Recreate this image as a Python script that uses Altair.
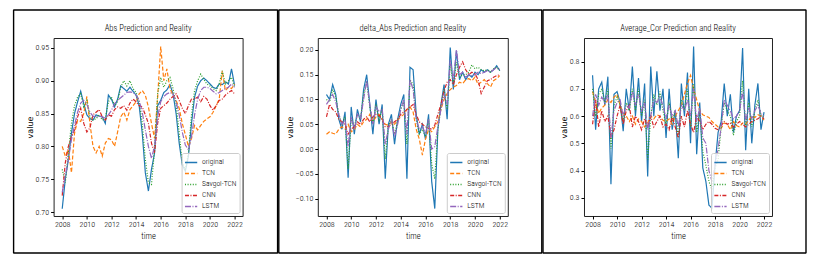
import altair as alt
import pandas as pd

FONT = "Roboto Condensed"
FW = 300

# time axis: quarterly points 2008.00 .. 2022.00
T = [2008 + 0.25 * i for i in range(57)]

NAMES = ["original", "TCN", "Savgol-TCN", "CNN", "LSTM"]
COLORS = ["#1f77b4", "#ff7f0e", "#2ca02c", "#d62728", "#9467bd"]
DASHES = [[1, 0], [4, 2], [1, 1.6], [4, 1.5, 1, 1.5], [6, 1.5, 1, 1.5]]

# ---------------- Abs ----------------
abs_original = [0.705, 0.750, 0.780, 0.820, 0.850, 0.868, 0.884, 0.865, 0.848, 0.842,
                0.840, 0.848, 0.846, 0.845, 0.835, 0.878, 0.872, 0.860, 0.872, 0.892,
                0.888, 0.884, 0.890, 0.884, 0.878, 0.862, 0.820, 0.760, 0.732, 0.765,
                0.790, 0.862, 0.870, 0.882, 0.886, 0.894, 0.880, 0.850, 0.805, 0.772,
                0.762, 0.785, 0.835, 0.875, 0.892, 0.900, 0.904, 0.900, 0.895, 0.890,
                0.888, 0.895, 0.894, 0.898, 0.895, 0.918, 0.893]
abs_tcn = [0.800, 0.785, 0.795, 0.760, 0.820, 0.840, 0.838, 0.850, 0.876, 0.835,
           0.800, 0.790, 0.800, 0.785, 0.805, 0.812, 0.810, 0.800, 0.822, 0.845,
           0.852, 0.840, 0.856, 0.862, 0.868, 0.880, 0.885, 0.878, 0.860, 0.835,
           0.812, 0.875, 0.952, 0.900, 0.918, 0.888, 0.878, 0.870, 0.858, 0.835,
           0.818, 0.800, 0.812, 0.832, 0.825, 0.832, 0.838, 0.842, 0.845, 0.852,
           0.862, 0.872, 0.915, 0.885, 0.890, 0.888, 0.895]
abs_savgol = [0.765, 0.745, 0.790, 0.835, 0.862, 0.875, 0.880, 0.860, 0.870, 0.845,
              0.840, 0.842, 0.848, 0.840, 0.842, 0.868, 0.875, 0.862, 0.868, 0.890,
              0.900, 0.892, 0.900, 0.888, 0.882, 0.868, 0.835, 0.780, 0.745, 0.742,
              0.795, 0.880, 0.905, 0.890, 0.900, 0.905, 0.888, 0.865, 0.820, 0.775,
              0.765, 0.790, 0.848, 0.885, 0.900, 0.910, 0.902, 0.895, 0.892, 0.888,
              0.885, 0.895, 0.915, 0.895, 0.900, 0.905, 0.890]
abs_cnn = [0.725, 0.775, 0.800, 0.815, 0.825, 0.845, 0.858, 0.835, 0.822, 0.828,
           0.848, 0.852, 0.856, 0.845, 0.840, 0.848, 0.846, 0.856, 0.860, 0.858,
           0.862, 0.855, 0.866, 0.872, 0.868, 0.862, 0.860, 0.848, 0.835, 0.805,
           0.790, 0.835, 0.858, 0.862, 0.866, 0.872, 0.876, 0.880, 0.870, 0.858,
           0.850, 0.862, 0.872, 0.872, 0.875, 0.868, 0.876, 0.872, 0.862, 0.855,
           0.862, 0.870, 0.872, 0.878, 0.882, 0.885, 0.880]
abs_lstm = [0.730, 0.755, 0.780, 0.810, 0.832, 0.852, 0.866, 0.870, 0.864, 0.852,
            0.846, 0.845, 0.846, 0.845, 0.843, 0.848, 0.855, 0.865, 0.870, 0.874,
            0.878, 0.882, 0.883, 0.882, 0.878, 0.870, 0.852, 0.825, 0.800, 0.782,
            0.800, 0.845, 0.868, 0.876, 0.880, 0.882, 0.880, 0.868, 0.848, 0.822,
            0.802, 0.795, 0.815, 0.848, 0.872, 0.885, 0.890, 0.890, 0.888, 0.884,
            0.880, 0.882, 0.885, 0.888, 0.890, 0.895, 0.890]

# ---------------- delta_Abs ----------------
d_original = [0.110, 0.100, 0.130, 0.110, 0.060, 0.040, 0.075, -0.058, 0.085, 0.030,
              0.080, 0.055, 0.120, 0.150, 0.090, 0.030, 0.100, 0.050, 0.090, -0.060,
              0.050, 0.070, 0.010, 0.060, 0.090, 0.110, -0.060, 0.165, 0.160, 0.070,
              0.030, 0.050, 0.020, 0.070, -0.065, -0.120, 0.040, 0.090, 0.130, 0.060,
              0.205, 0.120, 0.198, 0.140, 0.155, 0.140, 0.150, 0.145, 0.155, 0.150,
              0.160, 0.155, 0.160, 0.155, 0.160, 0.168, 0.158]
d_tcn = [0.030, 0.035, 0.032, 0.030, 0.040, 0.045, 0.040, 0.050, 0.035, 0.040,
         0.050, 0.045, 0.055, 0.060, 0.070, 0.055, 0.065, 0.070, 0.060, 0.050,
         0.048, 0.055, 0.050, 0.058, 0.065, 0.070, 0.080, 0.085, 0.075, 0.040,
         0.020, -0.012, 0.020, 0.040, 0.035, 0.045, 0.055, 0.080, 0.100, 0.112,
         0.120, 0.125, 0.128, 0.135, 0.132, 0.140, 0.142, 0.138, 0.145, 0.130,
         0.135, 0.140, 0.132, 0.125, 0.138, 0.142, 0.148]
d_savgol = [0.100, 0.095, 0.120, 0.105, 0.070, 0.050, 0.065, -0.040, 0.060, 0.045,
            0.070, 0.060, 0.110, 0.135, 0.085, 0.050, 0.090, 0.060, 0.080, -0.020,
            0.045, 0.060, 0.030, 0.055, 0.080, 0.095, 0.010, 0.140, 0.130, 0.060,
            0.030, 0.040, 0.025, 0.060, -0.030, -0.060, 0.040, 0.085, 0.120, 0.080,
            0.170, 0.130, 0.175, 0.145, 0.150, 0.150, 0.155, 0.170, 0.162, 0.165,
            0.160, 0.158, 0.160, 0.155, 0.162, 0.165, 0.158]
d_cnn = [0.065, 0.090, 0.080, 0.075, 0.060, 0.055, 0.050, 0.030, 0.040, 0.045,
         0.055, 0.050, 0.060, 0.065, 0.055, 0.065, 0.070, 0.068, 0.060, 0.045,
         0.045, 0.050, 0.055, 0.060, 0.070, 0.075, 0.080, 0.085, 0.090, 0.070,
         0.055, 0.050, 0.045, 0.042, 0.040, 0.048, 0.070, 0.090, 0.118, 0.135,
         0.140, 0.130, 0.150, 0.165, 0.176, 0.160, 0.150, 0.155, 0.152, 0.140,
         0.112, 0.125, 0.138, 0.140, 0.145, 0.148, 0.150]
d_lstm = [0.090, 0.100, 0.110, 0.095, 0.070, 0.050, 0.060, 0.005, 0.065, 0.040,
          0.070, 0.060, 0.100, 0.138, 0.090, 0.050, 0.085, 0.075, 0.080, 0.010,
          0.040, 0.060, 0.025, 0.050, 0.080, 0.100, 0.030, 0.140, 0.120, 0.060,
          0.040, 0.045, 0.030, 0.060, 0.000, 0.005, 0.045, 0.080, 0.110, 0.090,
          0.180, 0.140, 0.200, 0.150, 0.155, 0.145, 0.150, 0.148, 0.150, 0.155,
          0.152, 0.155, 0.158, 0.155, 0.160, 0.165, 0.160]

# ---------------- Average_Cor ----------------
c_original = [0.750, 0.550, 0.700, 0.725, 0.640, 0.745, 0.350, 0.680, 0.690, 0.650,
              0.545, 0.700, 0.620, 0.782, 0.600, 0.740, 0.580, 0.720, 0.378, 0.782,
              0.600, 0.765, 0.620, 0.700, 0.520, 0.700, 0.550, 0.620, 0.445, 0.720,
              0.600, 0.760, 0.500, 0.856, 0.460, 0.650, 0.410, 0.360, 0.273, 0.262,
              0.420, 0.540, 0.580, 0.720, 0.600, 0.680, 0.540, 0.600, 0.620, 0.850,
              0.475, 0.700, 0.500, 0.640, 0.720, 0.550, 0.615]
c_tcn = [0.690, 0.650, 0.610, 0.630, 0.640, 0.660, 0.650, 0.670, 0.680, 0.640,
         0.610, 0.600, 0.580, 0.600, 0.570, 0.590, 0.580, 0.560, 0.575, 0.600,
         0.590, 0.605, 0.600, 0.585, 0.580, 0.590, 0.570, 0.600, 0.620, 0.640,
         0.680, 0.720, 0.750, 0.700, 0.660, 0.620, 0.605, 0.600, 0.595, 0.580,
         0.570, 0.560, 0.555, 0.575, 0.570, 0.550, 0.580, 0.565, 0.560, 0.575,
         0.570, 0.585, 0.600, 0.595, 0.605, 0.600, 0.585]
c_savgol = [0.700, 0.600, 0.680, 0.700, 0.650, 0.700, 0.480, 0.640, 0.670, 0.640,
            0.580, 0.650, 0.620, 0.700, 0.620, 0.700, 0.600, 0.660, 0.440, 0.600,
            0.680, 0.640, 0.690, 0.620, 0.570, 0.650, 0.580, 0.620, 0.520, 0.660,
            0.620, 0.700, 0.560, 0.720, 0.540, 0.620, 0.470, 0.420, 0.360, 0.330,
            0.410, 0.440, 0.560, 0.650, 0.620, 0.600, 0.530, 0.580, 0.600, 0.730,
            0.560, 0.650, 0.560, 0.620, 0.660, 0.600, 0.600]
c_cnn = [0.570, 0.660, 0.560, 0.620, 0.580, 0.600, 0.525, 0.550, 0.600, 0.640,
         0.570, 0.620, 0.640, 0.560, 0.600, 0.580, 0.550, 0.590, 0.560, 0.600,
         0.560, 0.580, 0.600, 0.560, 0.570, 0.550, 0.600, 0.560, 0.520, 0.600,
         0.560, 0.620, 0.570, 0.540, 0.600, 0.580, 0.550, 0.570, 0.580, 0.570,
         0.555, 0.550, 0.565, 0.580, 0.570, 0.575, 0.560, 0.570, 0.580, 0.570,
         0.560, 0.570, 0.580, 0.585, 0.590, 0.600, 0.590]
c_lstm = [0.600, 0.680, 0.640, 0.670, 0.650, 0.680, 0.520, 0.620, 0.650, 0.660,
          0.600, 0.640, 0.630, 0.690, 0.640, 0.680, 0.620, 0.650, 0.550, 0.600,
          0.660, 0.650, 0.670, 0.640, 0.590, 0.640, 0.600, 0.620, 0.560, 0.640,
          0.620, 0.660, 0.600, 0.700, 0.580, 0.630, 0.520, 0.500, 0.400, 0.360,
          0.420, 0.480, 0.560, 0.660, 0.640, 0.620, 0.590, 0.600, 0.620, 0.690,
          0.580, 0.630, 0.590, 0.620, 0.640, 0.610, 0.600]

H = 178
SW = 1.4  # frame stroke width


def panel(title, series, width, ydomain, yticks, yfmt, left, right):
    rows = []
    for name, vals in zip(NAMES, series):
        for t, v in zip(T, vals):
            rows.append({"t": t, "value": v, "series": name})
    df = pd.DataFrame(rows)

    leg = alt.Legend(
        title=None, orient="bottom-right", offset=3, fillColor="rgba(255,255,255,0.8)",
        strokeColor="#cccccc", padding=2.5, cornerRadius=2, labelFontSize=7.6,
        labelFont=FONT, labelFontWeight=FW, symbolType="stroke", symbolSize=150,
        symbolStrokeWidth=1.3, rowPadding=0, labelOffset=4, labelColor="#000",
    )
    lines = alt.Chart(df).mark_line(strokeWidth=1.2, clip=True).encode(
        x=alt.X("t:Q", scale=alt.Scale(domain=[2007.3, 2022.65], nice=False, zero=False),
                axis=alt.Axis(values=list(range(2008, 2023, 2)), format="d", title="time",
                              titleFontWeight=FW, titleFont=FONT)),
        y=alt.Y("value:Q", scale=alt.Scale(domain=ydomain, nice=False, zero=False),
                axis=alt.Axis(values=yticks, format=yfmt, title="value")),
        color=alt.Color("series:N", scale=alt.Scale(domain=NAMES, range=COLORS), legend=leg),
        strokeDash=alt.StrokeDash("series:N", scale=alt.Scale(domain=NAMES, range=DASHES), legend=leg),
    )
    frame = alt.Chart(alt.Data(values=[{"a": 1}])).mark_rect(
        filled=False, stroke="black", strokeWidth=SW, strokeJoin="bevel"
    ).encode(
        x=alt.value(-left), x2=alt.value(width + right),
        y=alt.value(-28), y2=alt.value(H + 37),
    )
    return alt.layer(frame, lines).properties(
        width=width, height=H,
        title=alt.Title(title, fontSize=8.6, fontWeight=FW, font=FONT,
                        offset=-23, color="#000"),
    )


p1 = panel("Abs Prediction and Reality",
           [abs_original, abs_tcn, abs_savgol, abs_cnn, abs_lstm],
           189, [0.694, 0.965], [0.70, 0.75, 0.80, 0.85, 0.90, 0.95], ".2f", 40, 35)
p2 = panel("delta_Abs Prediction and Reality",
           [d_original, d_tcn, d_savgol, d_cnn, d_lstm],
           190, [-0.135, 0.224], [-0.10, -0.05, 0.0, 0.05, 0.10, 0.15, 0.20], ".2f", 39, 34)
p3 = panel("Average_Cor Prediction and Reality",
           [c_original, c_tcn, c_savgol, c_cnn, c_lstm],
           188, [0.233, 0.887], [0.3, 0.4, 0.5, 0.6, 0.7, 0.8], ".1f", 41, 34)

chart = alt.hconcat(p1, p2, p3, spacing=-2 * SW).properties(
    padding={"left": 5 - SW, "top": 0, "right": 5, "bottom": 5},
    background="white",
).resolve_scale(color="independent", strokeDash="independent").configure_view(
    stroke="#222222", strokeWidth=1
).configure_axis(
    grid=False, domain=False, tickSize=3, tickColor="#000", labelColor="#000",
    titleColor="#000", labelFontSize=8, titleFontSize=8.5, labelFont=FONT,
    labelFontWeight=FW, titleFont=FONT, titleFontWeight=FW, labelPadding=2,
).configure_axisY(titlePadding=1, titleFont="DejaVu Sans", titleFontSize=8,
                  titleFontWeight="normal").configure_axisX(titlePadding=3, titleFontWeight=FW)

chart.save("out.html", embed_options={"renderer": "svg", "actions": False})
